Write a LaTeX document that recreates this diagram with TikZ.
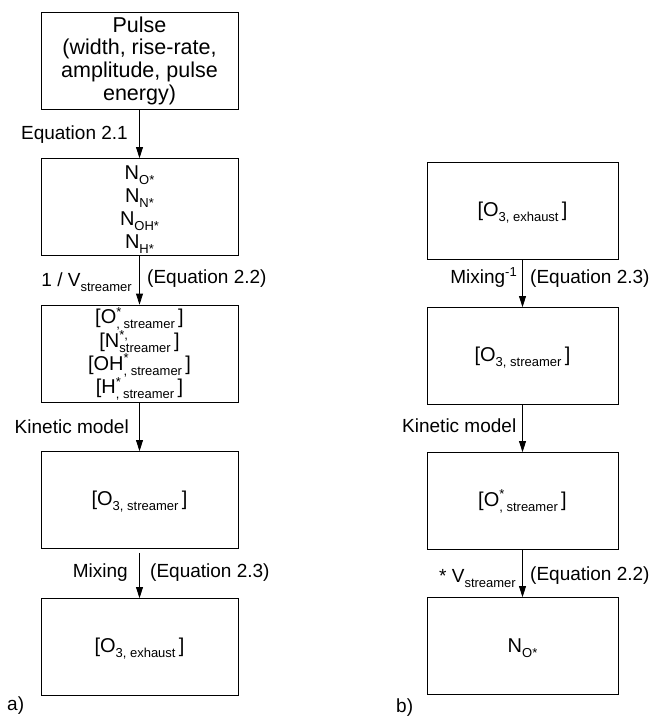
\documentclass[tikz,border=0pt]{standalone}
\usepackage{fontspec}
\setmainfont{Liberation Sans}
\usetikzlibrary{arrows.meta}
\newcommand{\sbs}[1]{\smash{\raisebox{-5pt}{\fontsize{13}{13}\selectfont #1}}}
\newcommand{\sps}[1]{\smash{\raisebox{7.5pt}{\fontsize{13}{13}\selectfont #1}}}
\newcommand{\supsubs}[2]{\rlap{\sps{#1}}\sbs{#2}}
\tikzset{
  every node/.style={font=\fontsize{19}{23}\selectfont, text=black},
  box/.style={draw, line width=0.8pt, minimum width=197pt, minimum height=97pt, align=center, inner sep=0pt, font=\fontsize{20}{23}\selectfont},
  rbox/.style={box, minimum width=191pt},
  arr/.style={-{Triangle[length=11pt,width=7pt]}, line width=0.8pt},
  lbl/.style={inner sep=0pt}
}
\begin{document}
\begin{tikzpicture}[x=1pt,y=-1pt]
\useasboundingbox (0,0) rectangle (651,717);
% left column
\node[box, font=\fontsize{21.5}{22.7}\selectfont] (p) at (139.5,60.5) {Pulse\\(width, rise-rate,\\amplitude, pulse\\energy)};
\node[box] (n) at (139.5,207) {N\sbs{O*}\\N\sbs{N*}\\N\sbs{OH*}\\N\sbs{H*}};
\node[box, font=\fontsize{20}{23.3}\selectfont] (o) at (139.5,353.5) {{[}O\supsubs{*}{, streamer}\,]\\{[}N\supsubs{*,}{streamer}\,]\\{[}OH\supsubs{*}{, streamer}\,]\\{[}H\supsubs{*}{, streamer}\,]};
\node[box] (ls) at (139.5,500) {{[}O\sbs{3, streamer}\,]};
\node[box] (le) at (139.5,647) {{[}O\sbs{3, exhaust}\,]};
\draw[arr] (p) -- (n);
\draw[arr] (n) -- (o);
\draw[arr] (o) -- (ls);
\draw[arr, shorten <=4pt] (ls) -- (le);
\node[lbl, anchor=east] (l1) at (128,135) {Equation 2.1};
\node[lbl, anchor=east] (l2) at (132,280) {1 / V\sbs{streamer}};
\node[lbl, anchor=west] (l2b) at (147,279) {(Equation 2.2)};
\node[lbl, anchor=east] (l3) at (129,427) {Kinetic model};
\node[lbl, anchor=east] (l4) at (128,573) {Mixing};
\node[lbl, anchor=west] (l4b) at (150,573) {(Equation 2.3)};
\node[lbl, anchor=west] (a) at (7,706) {a)};
% right column
\node[rbox] (r1) at (522.5,211) {{[}O\sbs{3, exhaust}\,]};
\node[rbox] (r2) at (522.5,356) {{[}O\sbs{3, streamer}\,]};
\node[rbox] (r3) at (522.5,501) {{[}O\supsubs{*}{, streamer}\,]};
\node[rbox] (r4) at (522.5,646) {N\sbs{O*}};
\draw[arr] (r1) -- (r2);
\draw[arr] (r2) -- (r3);
\draw[arr] (r3) -- (r4);
\node[lbl, anchor=east] (m1) at (517,279) {Mixing\sps{-1}};
\node[lbl, anchor=west] (m1b) at (530,279) {(Equation 2.3)};
\node[lbl, anchor=west] (m2) at (402,426) {Kinetic model};
\node[lbl, anchor=east] (m3) at (516,576) {* V\sbs{streamer}};
\node[lbl, anchor=west] (m3b) at (530,576) {(Equation 2.2)};
\node[lbl, anchor=west] (b) at (396,708) {b)};
\end{tikzpicture}
\end{document}
